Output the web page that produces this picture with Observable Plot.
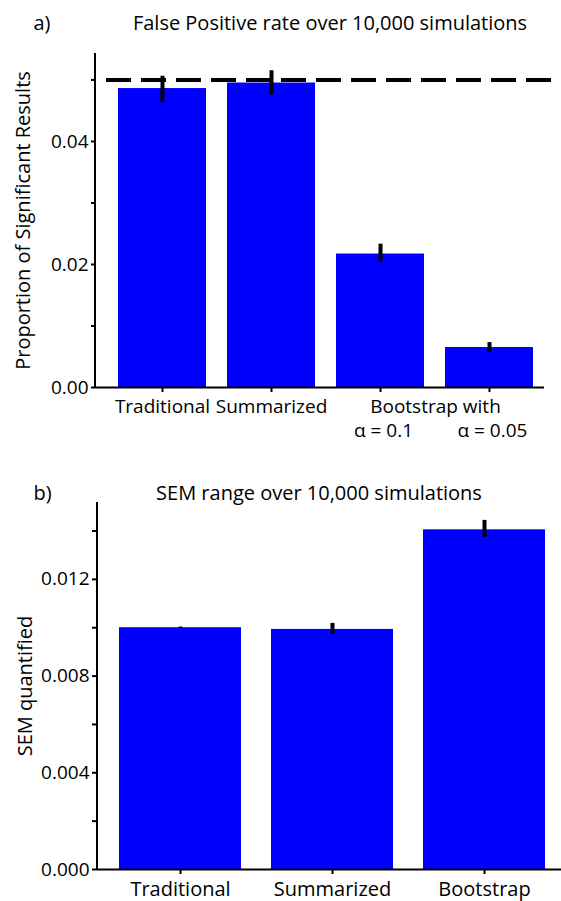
<!DOCTYPE html>
<html>
<head>
<meta charset="utf-8">
<script src="https://cdn.jsdelivr.net/npm/d3@7"></script>
<script src="https://cdn.jsdelivr.net/npm/@observablehq/plot@0.6"></script>
<style>
  html, body { margin: 0; padding: 0; background: white; }
  #wrap { width: 561px; height: 901px; position: relative; overflow: hidden; }
  #wrap svg { display: block; }
</style>
</head>
<body>
<div id="wrap"></div>
<script>
// ---------- Panel a data ----------
const titleA = "False Positive rate over 10,000 simulations";
const panelA = "a)";
const yLabelA = "Proportion of Significant Results";
const catsA = ["Traditional", "Summarized", "Bootstrap α = 0.1", "Bootstrap α = 0.05"];
const valsA = [0.0486, 0.0495, 0.0217, 0.0065];
const loA   = [0.0463, 0.0475, 0.0204, 0.0057];
const hiA   = [0.0506, 0.0515, 0.0233, 0.0073];
const tickLabelsA = ["Traditional", "Summarized", "", ""];
const groupLabelA = "Bootstrap with";
const alphaLabelsA = ["", "", "α = 0.1", "α = 0.05"];
const nominalAlpha = 0.05;
const yTicksA = [0, 0.01, 0.02, 0.03, 0.04, 0.05];
const yLabeledA = [0, 0.02, 0.04];

// ---------- Panel b data ----------
const titleB = "SEM range over 10,000 simulations";
const panelB = "b)";
const yLabelB = "SEM quantified";
const catsB = ["Traditional", "Summarized", "Bootstrap"];
const valsB = [0.01000, 0.00993, 0.01405];
const loB   = [0.00997, 0.00972, 0.01374];
const hiB   = [0.01003, 0.01018, 0.01444];
const yTicksB = [0, 0.002, 0.004, 0.006, 0.008, 0.010, 0.012, 0.014];
const yLabeledB = [0, 0.004, 0.008, 0.012];

const dataA = catsA.map((c, i) => ({cat: c, value: valsA[i], lo: loA[i], hi: hiA[i], tick: tickLabelsA[i], alpha: alphaLabelsA[i]}));
const dataB = catsB.map((c, i) => ({cat: c, value: valsB[i], lo: loB[i], hi: hiB[i]}));

const BLUE = "#0000ff";
const FONT = "'Open Sans', sans-serif";

function leftAxisLine(index, scales, values, dims) {
  const l = document.createElementNS("http://www.w3.org/2000/svg", "line");
  l.setAttribute("x1", dims.marginLeft);
  l.setAttribute("x2", dims.marginLeft);
  l.setAttribute("y1", dims.marginTop);
  l.setAttribute("y2", dims.height - dims.marginBottom);
  l.setAttribute("stroke", "black");
  l.setAttribute("stroke-width", 2);
  return l;
}

const tickMapA = new Map(dataA.map(d => [d.cat, d.tick]));
const fmtA = d3.format(".2f");
const fmtB = d3.format(".3f");
const near = (arr, d) => arr.some(v => Math.abs(v - d) < 1e-9);

const plotA = Plot.plot({
  width: 561, height: 450,
  marginTop: 53, marginBottom: 63, marginLeft: 95, marginRight: 17,
  style: {fontFamily: FONT, fontSize: "20px", color: "black", background: "white", overflow: "visible"},
  x: {domain: catsA, paddingInner: 0.195, paddingOuter: 0, insetLeft: 22, insetRight: 11, label: null},
  y: {domain: [0, 0.0543], label: null},
  marks: [
    Plot.barY(dataA, {x: "cat", y: "value", fill: BLUE}),
    Plot.ruleY([nominalAlpha], {stroke: "black", strokeWidth: 4, strokeDasharray: "25,10", insetLeft: 11, insetRight: -12}),
    Plot.ruleX(dataA, {x: "cat", y1: "lo", y2: "hi", stroke: "black", strokeWidth: 4}),
    Plot.ruleY([0], {stroke: "black", strokeWidth: 2}),
    leftAxisLine,
    Plot.axisY({ticks: yTicksA, tickFormat: d => near(yLabeledA, d) ? fmtA(d) : "", tickSize: 4, tickPadding: 3, strokeWidth: 2, fontSize: 19, label: null}),
    Plot.axisX({tickSize: 5, tickPadding: 7, strokeWidth: 2, fontSize: 19, tickFormat: d => tickMapA.get(d), label: null}),
    Plot.text([groupLabelA], {x: () => catsA[2], frameAnchor: "bottom", lineAnchor: "top", fontSize: 19, dy: 12, dx: 55}),
    Plot.text(dataA, {x: "cat", text: "alpha", frameAnchor: "bottom", lineAnchor: "top", fontSize: 19, dy: 36, dx: 3}),
    Plot.text([panelA], {frameAnchor: "top-left", textAnchor: "start", lineAnchor: "top", dx: 33 - 95, dy: -38.2}),
    Plot.text([titleA], {frameAnchor: "top", lineAnchor: "top", dx: 10, dy: -38.2}),
    Plot.text([yLabelA], {frameAnchor: "left", rotate: -90, textAnchor: "middle", lineAnchor: "middle", dx: -71.5})
  ]
});

const tickMapB = new Map(dataB.map(d => [d.cat, d.cat]));

const plotB = Plot.plot({
  width: 561, height: 451,
  marginTop: 52, marginBottom: 32, marginLeft: 97, marginRight: 0,
  style: {fontFamily: FONT, fontSize: "20px", color: "black", background: "white", overflow: "visible"},
  x: {domain: catsB, paddingInner: 0.196, paddingOuter: 0, insetLeft: 21, insetRight: 14, label: null},
  y: {domain: [0, 0.01518], label: null},
  marks: [
    Plot.barY(dataB, {x: "cat", y: "value", fill: BLUE}),
    Plot.ruleX(dataB, {x: "cat", y1: "lo", y2: "hi", stroke: "black", strokeWidth: 4}),
    Plot.ruleY([0], {stroke: "black", strokeWidth: 2}),
    leftAxisLine,
    Plot.axisY({ticks: yTicksB, tickFormat: d => near(yLabeledB, d) ? fmtB(d) : "", tickSize: 5, tickPadding: 3, strokeWidth: 2, fontSize: 19, label: null}),
    Plot.axisX({tickSize: 5, tickPadding: 7, strokeWidth: 2, tickFormat: d => tickMapB.get(d), label: null}),
    Plot.text([panelB], {frameAnchor: "top-left", textAnchor: "start", lineAnchor: "top", dx: 33 - 97, dy: -17.2}),
    Plot.text([titleB], {frameAnchor: "top", lineAnchor: "top", dx: -10.5, dy: -17.2}),
    Plot.text([yLabelB], {frameAnchor: "left", rotate: -90, textAnchor: "middle", lineAnchor: "middle", dx: -72})
  ]
});

const wrap = document.getElementById("wrap");
wrap.appendChild(plotA);
wrap.appendChild(plotB);
</script>
</body>
</html>
